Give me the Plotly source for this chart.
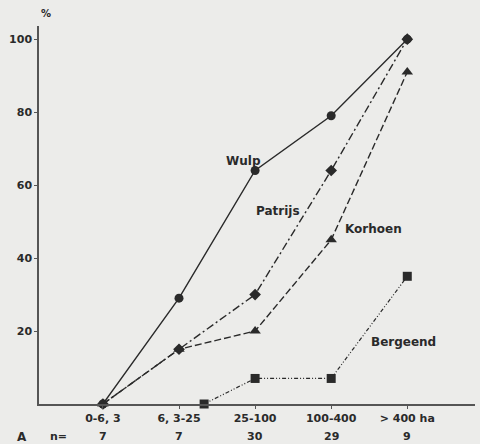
import plotly.graph_objects as go

categories = ["0-6, 3", "6, 3-25", "25-100", "100-400", "> 400 ha"]
n_counts = ["7", "7", "30", "29", "9"]
cat_x = [0, 1, 2, 3, 4]

wulp = [0, 29, 64, 79, 100]
patrijs = [0, 15, 30, 64, 100]
korhoen = [0, 15, 20, 45, 91]
bergeend_x = [1.33, 2, 3, 4]
bergeend = [0, 7, 7, 35]

ink = "#2a2a2a"
fam = "DejaVu Sans"
font = dict(family=fam, size=11, color=ink, weight="bold")

fig = go.Figure()
fig.add_trace(go.Scatter(x=cat_x, y=patrijs, mode="lines+markers",
                         line=dict(color=ink, width=1.4, dash="8px,3px,2px,3px"),
                         marker=dict(symbol="diamond", size=9, color=ink), cliponaxis=False))
fig.add_trace(go.Scatter(x=cat_x, y=korhoen, mode="lines+markers",
                         line=dict(color=ink, width=1.4, dash="7px,3px"),
                         marker=dict(symbol="triangle-up", size=10, color=ink), cliponaxis=False))
fig.add_trace(go.Scatter(x=bergeend_x, y=bergeend, mode="lines+markers",
                         line=dict(color=ink, width=1.2, dash="4px,2px,1px,2px,1px,2px"),
                         marker=dict(symbol="square", size=9, color=ink), cliponaxis=False))
fig.add_trace(go.Scatter(x=cat_x, y=wulp, mode="lines+markers",
                         line=dict(color=ink, width=1.4),
                         marker=dict(symbol="circle", size=9, color=ink), cliponaxis=False))

labels = [("Wulp", 1.85, 66.5), ("Patrijs", 2.3, 53), ("Korhoen", 3.55, 48), ("Bergeend", 3.95, 17)]
for t, x, y in labels:
    fig.add_annotation(x=x, y=y, text=t, showarrow=False, font=dict(family=fam, size=12, color=ink, weight="bold"))

for x, n in zip(cat_x, n_counts):
    fig.add_annotation(x=x, y=-0.087, xref="x", yref="paper", yanchor="middle", text=n, showarrow=False, font=font)
fig.add_annotation(x=-0.055, y=-0.087, xref="paper", yref="paper", yanchor="middle", text="A", showarrow=False,
                   font=dict(family=fam, size=12, color=ink, weight="bold"))
fig.add_annotation(x=0.02, y=-0.087, xref="paper", yref="paper", yanchor="middle", text="n=", showarrow=False, font=font)
fig.add_annotation(x=0, y=1.032, xref="paper", yref="paper", yanchor="middle", text="%", showarrow=False,
                   font=dict(family=fam, size=10, color=ink, weight="bold"))

fig.update_layout(
    width=480, height=444,
    margin=dict(l=39, r=5, t=26, b=40),
    paper_bgcolor="#ececea", plot_bgcolor="#ececea",
    showlegend=False, font=font,
)
fig.update_xaxes(range=[-0.84, 4.89], tickvals=cat_x, ticktext=categories,
                 showgrid=False, zeroline=False, showline=True, linecolor="#555", linewidth=1.5,
                 ticks="outside", ticklen=3, tickcolor="#555", tickfont=font)
fig.update_yaxes(range=[0, 103.6], tickvals=[20, 40, 60, 80, 100],
                 showgrid=False, zeroline=False, showline=True, linecolor="#555", linewidth=1.5,
                 ticks="outside", ticklen=3, tickcolor="#555", tickfont=font)

fig.write_html("out.html")
